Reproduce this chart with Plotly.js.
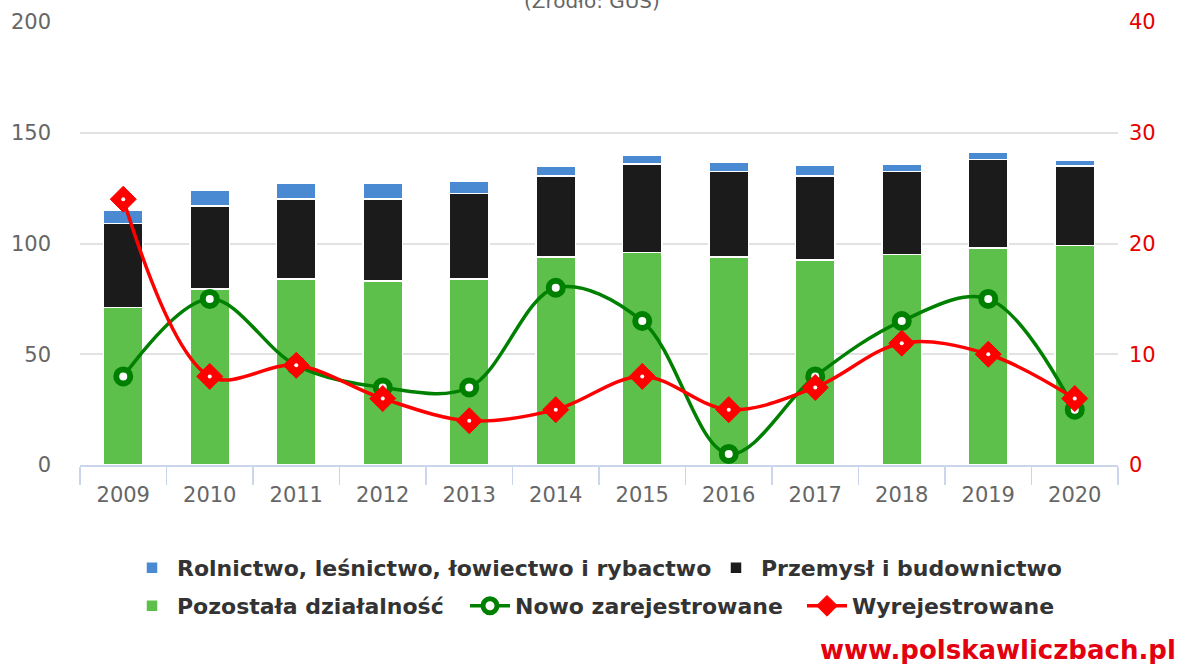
<!DOCTYPE html>
<html>
<head>
<meta charset="utf-8">
<script src="https://cdn.plot.ly/plotly-3.0.1.min.js"></script>
<style>html,body{margin:0;padding:0;background:#fff;}#chart{width:1195px;height:664px;}</style>
</head>
<body>
<div id="chart"></div>
<script>
var years = ['2009','2010','2011','2012','2013','2014','2015','2016','2017','2018','2019','2020'];
var rolnictwo = [6, 7, 7, 7, 5.5, 4.5, 4, 4, 5, 3.5, 3, 2.5];
var przemysl  = [38, 37.5, 36, 37, 38.5, 36.5, 40, 38.5, 38, 37.5, 40, 36];
var pozostala = [71, 79.5, 84, 83, 84, 94, 96, 94, 92.5, 95, 98, 99];
var nowo      = [8, 15, 9, 7, 7, 16, 13, 1, 8, 13, 15, 5];
var wyrej     = [24, 8, 9, 6, 4, 5, 8, 5, 7, 11, 10, 6];

var FONT = 'DejaVu Sans, Verdana, sans-serif';
var barW = 0.46;

var traces = [
  {type:'bar', name:'Pozostała działalność', x:years, y:pozostala, width:barW, legend:'legend3',
   marker:{color:'#5cc04a', line:{color:'#ffffff', width:1.5}}, hoverinfo:'skip'},
  {type:'bar', name:'Przemysł i budownictwo', x:years, y:przemysl, width:barW, legend:'legend2',
   marker:{color:'#1b1b1b', line:{color:'#ffffff', width:1.5}}, hoverinfo:'skip'},
  {type:'bar', name:'Rolnictwo, leśnictwo, łowiectwo i rybactwo', x:years, y:rolnictwo, width:barW, legend:'legend',
   marker:{color:'#4a8ad2', line:{color:'#ffffff', width:1.5}}, hoverinfo:'skip'},
  {type:'scatter', mode:'lines+markers', name:'Nowo zarejestrowane', x:years, y:nowo, yaxis:'y2', legend:'legend4',
   line:{color:'#008000', width:3.5, shape:'spline', smoothing:1},
   marker:{symbol:'circle', size:14, color:'#ffffff', line:{color:'#008000', width:6}}, hoverinfo:'skip'},
  {type:'scatter', mode:'lines+markers', name:'Wyrejestrowane', x:years, y:wyrej, yaxis:'y2', legend:'legend5',
   line:{color:'#ff0000', width:3.5, shape:'spline', smoothing:1},
   marker:{symbol:'diamond', size:20, color:'#ff0000', line:{color:'#ff0000', width:1}}, hoverinfo:'skip'},
  {type:'scatter', mode:'markers', x:years, y:wyrej, yaxis:'y2', showlegend:false,
   marker:{symbol:'circle', size:4, color:'#ffffff'}, hoverinfo:'skip'}
];

function leg(xpx, ypx) {
  return {orientation:'h', xref:'container', yref:'container',
          x:xpx/1195, xanchor:'left', y:1 - ypx/664, yanchor:'middle',
          itemwidth:40, bgcolor:'rgba(0,0,0,0)', borderwidth:0,
          font:{family:FONT, size:22, color:'#333333', weight:'bold'},
          itemclick:false, itemdoubleclick:false};
}

var layout = {
  width:1195, height:664,
  margin:{l:80, r:77, t:22, b:199, autoexpand:false},
  paper_bgcolor:'#ffffff', plot_bgcolor:'#ffffff',
  barmode:'stack',
  font:{family:FONT, size:21, color:'#666666'},
  showlegend:true,
  legend: leg(127, 568),
  legend2: leg(711, 568),
  legend3: leg(127, 606),
  legend4: leg(465, 606),
  legend5: leg(802, 606),
  xaxis:{type:'category', range:[-0.5, 11.5], showgrid:false, zeroline:false,
         showline:true, linecolor:'#ccd6eb', linewidth:2,
         ticks:'outside', tickson:'boundaries', ticklen:18, tickcolor:'#ccd6eb', tickwidth:1.5,
         ticklabelstandoff:10,
         tickfont:{family:FONT, size:21, color:'#666666'}, fixedrange:true},
  yaxis:{range:[0,200], dtick:50, showgrid:true, gridcolor:'#e2e2e2', gridwidth:2,
         zeroline:false, showline:false, ticks:'', ticklabelstandoff:28,
         tickfont:{family:FONT, size:21, color:'#666666'}, fixedrange:true},
  yaxis2:{range:[0,40], dtick:10, overlaying:'y', side:'right', showgrid:false,
          zeroline:false, showline:false, ticks:'', ticklabelstandoff:10,
          tickfont:{family:FONT, size:21, color:'#e60000'}, fixedrange:true},
  annotations:[
    {text:'(Źródło: GUS)', xref:'paper', yref:'paper', x:(592-80)/1038, y:(465-15)/443, xanchor:'center', yanchor:'bottom',
     showarrow:false, font:{family:FONT, size:20, color:'#666666'}},
    {text:'www.polskawliczbach.pl', xref:'paper', yref:'paper', x:(1178-80)/1038, y:(465-650)/443, xanchor:'right', yanchor:'middle',
     showarrow:false, font:{family:FONT, size:26, color:'#e3000f', weight:'bold'}}
  ]
};

Plotly.newPlot('chart', traces, layout, {displayModeBar:false, staticPlot:true});
</script>
</body>
</html>
